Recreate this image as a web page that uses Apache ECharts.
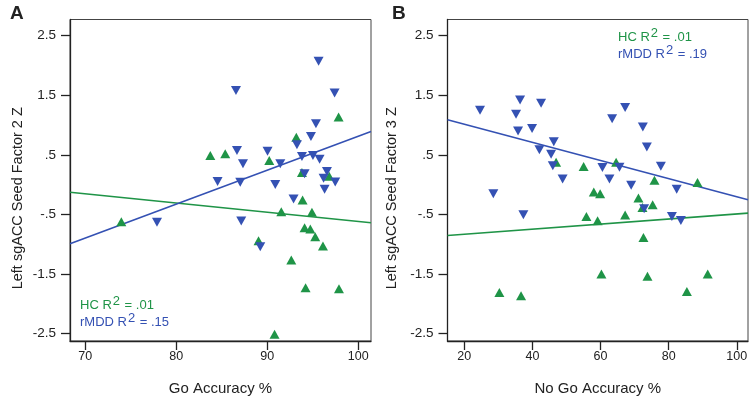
<!DOCTYPE html>
<html>
<head>
<meta charset="utf-8">
<script src="https://cdn.jsdelivr.net/npm/echarts@6/dist/echarts.min.js"></script>
<style>
html,body{margin:0;padding:0;background:#fff;}
#c{width:753px;height:409px;}
</style>
</head>
<body>
<div id="c"></div>
<script>
// ---- Panel A : Go Accuracy % vs Factor 2 Z ----
const hcGoA   = [97.84, 93.19, 83.74, 85.38, 90.22, 93.81, 96.81, 93.88, 91.54, 94.91, 94.10, 94.73, 95.27, 96.12, 89.04, 92.64, 94.21, 97.88, 90.80, 73.96];
const hcF2A   = [1.134, 0.797, 0.488, 0.517, 0.404, 0.203, 0.142, -0.256, -0.453, -0.463, -0.722, -0.744, -0.873, -1.029, -0.940, -1.265, -1.727, -1.747, -2.508, -0.621];
const rmddGoA = [95.64, 86.56, 97.40, 95.35, 94.80, 93.26, 86.67, 90.03, 87.33, 91.43, 93.81, 95.02, 95.75, 94.10, 96.56, 96.19, 97.47, 84.54, 87.03, 90.88, 96.30, 92.89, 87.14, 77.88, 89.23];
const rmddF2A = [2.07, 1.58, 1.537, 1.021, 0.808, 0.668, 0.572, 0.562, 0.349, 0.349, 0.471, 0.488, 0.428, 0.181, 0.219, 0.108, 0.046, 0.051, 0.041, 0.004, -0.077, -0.239, -0.609, -0.631, -1.041];
const fitHcA   = [-0.127, -0.638];   // fitted line at left / right edge
const fitRmddA = [-0.99, 0.892];

// ---- Panel B : No Go Accuracy % vs Factor 3 Z ----
const hcNoGoB   = [46.95, 55.03, 64.58, 75.83, 88.47, 58.02, 59.88, 71.13, 75.30, 72.31, 55.85, 59.14, 67.22, 72.60, 60.26, 73.78, 91.47, 30.29, 36.66, 85.35];
const hcF3B     = [0.375, 0.304, 0.375, 0.073, 0.036, -0.125, -0.153, -0.225, -0.338, -0.383, -0.534, -0.606, -0.510, -0.886, -1.499, -1.536, -1.499, -1.808, -1.863, -1.791];
const rmddNoGoB = [24.61, 36.37, 42.54, 35.19, 35.78, 39.89, 46.27, 42.04, 45.48, 45.98, 48.86, 28.52, 37.34, 67.22, 63.40, 72.42, 73.60, 60.55, 65.55, 77.71, 62.61, 68.99, 82.36, 72.80, 80.95, 83.59];
const rmddF3B   = [1.246, 1.422, 1.367, 1.183, 0.898, 0.941, 0.718, 0.584, 0.509, 0.316, 0.093, -0.153, -0.505, 1.293, 1.104, 0.966, 0.631, 0.286, 0.291, 0.308, 0.095, -0.011, -0.075, -0.405, -0.534, -0.601];
const fitHcB   = [-0.852, -0.477];
const fitRmddB = [1.087, -0.254];

// ---- axes ----
const xRangeA = [68.32, 101.4];
const xRangeB = [15.06, 103.3];
const yRange  = [-2.622, 2.77];
const xTicksA = [70, 80, 90, 100];
const xTicksB = [20, 40, 60, 80, 100];
const yTicks  = [-2.5, -1.5, -0.5, 0.5, 1.5, 2.5];
const statsA = {hc: '.01', rmdd: '.15'};
const statsB = {hc: '.01', rmdd: '.19'};

const GREEN = '#1f9447';
const BLUE  = '#3451b3';
const FONT  = 'Liberation Sans, Arial, sans-serif';

function zip(xs, ys){ return xs.map((x,i)=>[x, ys[i]]); }
function yFmt(v){ return String(v).replace('0.', '.'); }

function xAxisCfg(idx, range, ticks, name){
  return {
    type:'value', gridIndex: idx, min: range[0], max: range[1],
    name: name, nameLocation:'middle', nameGap: 40,
    nameTextStyle:{fontFamily: FONT, fontSize: 15, color:'#222'},
    axisLine:{show:true, onZero:false, lineStyle:{color:'#222', width:1.3}},
    axisTick:{show:true, customValues: ticks, length: 9, lineStyle:{color:'#222', width:1.3}},
    axisLabel:{customValues: ticks, margin: 9, fontFamily: FONT, fontSize: 12.5, color:'#222'},
    splitLine:{show:false}
  };
}
function yAxisCfg(idx, name, gap){
  return {
    type:'value', gridIndex: idx, min: yRange[0], max: yRange[1],
    name: name, nameLocation:'middle', nameGap: gap, nameRotate: 90,
    nameTextStyle:{fontFamily: FONT, fontSize: 14.5, color:'#222', padding:[0,36,0,0]},
    axisLine:{show:true, onZero:false, lineStyle:{color:'#222', width:1.3}},
    axisTick:{show:true, customValues: yTicks, length: 9, lineStyle:{color:'#222', width:1.3}},
    axisLabel:{customValues: yTicks, margin: 14, fontFamily: FONT, fontSize: 13.5, color:'#222', formatter: yFmt},
    splitLine:{show:false}
  };
}
function scat(idx, data, color, up){
  return {
    type:'scatter', xAxisIndex: idx, yAxisIndex: idx, data: data,
    symbol:'triangle', symbolSize:[10,9], symbolRotate: up ? 0 : 180,
    itemStyle:{color: color, opacity: 1}, z: 3, silent: true
  };
}
function fit(idx, range, ys, color){
  return {
    type:'line', xAxisIndex: idx, yAxisIndex: idx,
    data: [[range[0], ys[0]], [range[1], ys[1]]],
    showSymbol:false, symbol:'none', lineStyle:{color: color, width:1.6}, z: 2, silent: true
  };
}
function stat(x, y, label, val, color){
  return {
    type:'text', x: x, y: y, silent: true,
    style:{
      text: '{a|' + label + ' R}{s|2}{a| = ' + val + '}',
      fill: color,
      rich:{
        a:{fontFamily: FONT, fontSize: 13, fill: color, padding:[4,0,0,0]},
        s:{fontFamily: FONT, fontSize: 13, fill: color, padding:[0,1,4,1]}
      }
    }
  };
}

const chart = echarts.init(document.getElementById('c'), null, {renderer:'canvas'});
chart.setOption({
  animation: false,
  backgroundColor: '#fff',
  grid: [
    {left: 70, top: 19.5, width: 301, height: 321.5, show: true, borderColor:'#444', borderWidth: 1, backgroundColor:'transparent'},
    {left: 447.5, top: 19.5, width: 300.5, height: 321.5, show: true, borderColor:'#444', borderWidth: 1, backgroundColor:'transparent'}
  ],
  xAxis: [
    xAxisCfg(0, xRangeA, xTicksA, 'Go Accuracy %'),
    xAxisCfg(1, xRangeB, xTicksB, 'No Go Accuracy %')
  ],
  yAxis: [
    yAxisCfg(0, 'Left sgACC Seed Factor 2 Z', 45),
    yAxisCfg(1, 'Left sgACC Seed Factor 3 Z', 48)
  ],
  series: [
    fit(0, xRangeA, fitHcA, GREEN),
    fit(0, xRangeA, fitRmddA, BLUE),
    scat(0, zip(hcGoA, hcF2A), GREEN, true),
    scat(0, zip(rmddGoA, rmddF2A), BLUE, false),
    fit(1, xRangeB, fitHcB, GREEN),
    fit(1, xRangeB, fitRmddB, BLUE),
    scat(1, zip(hcNoGoB, hcF3B), GREEN, true),
    scat(1, zip(rmddNoGoB, rmddF3B), BLUE, false)
  ],
  graphic: [
    {type:'text', x: 10, y: 4, style:{text:'A', fontFamily: FONT, fontSize: 19, fontWeight:'bold', fill:'#222'}},
    {type:'text', x: 392, y: 4, style:{text:'B', fontFamily: FONT, fontSize: 19, fontWeight:'bold', fill:'#222'}},
    stat(80, 295, 'HC', statsA.hc, GREEN),
    stat(80, 312, 'rMDD', statsA.rmdd, BLUE),
    stat(618, 27, 'HC', statsB.hc, GREEN),
    stat(618, 44, 'rMDD', statsB.rmdd, BLUE)
  ]
});
</script>
</body>
</html>
